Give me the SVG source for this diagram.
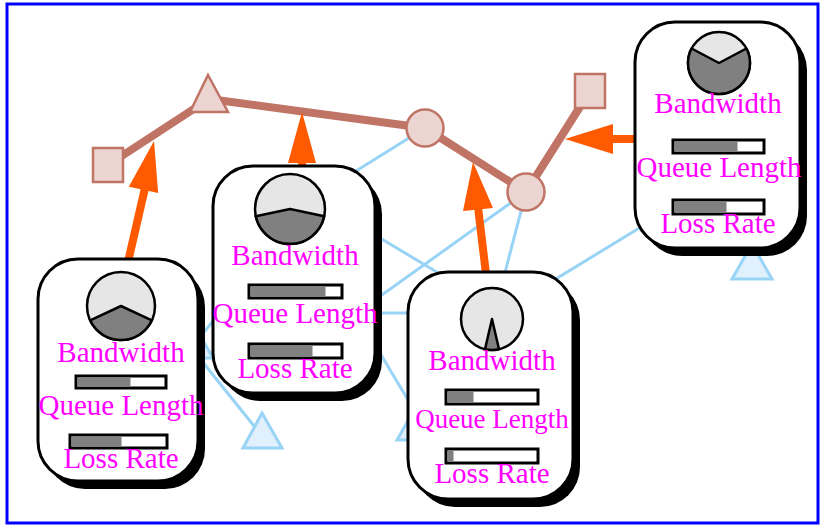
<svg xmlns="http://www.w3.org/2000/svg" width="822" height="527" viewBox="0 0 822 527">
<style>
.frame{fill:#fff;stroke:#0000ff;stroke-width:3}
.bl{stroke:#99d4f7;stroke-width:3;fill:none}
.btri{fill:#e0f1fd;stroke:#99d4f7;stroke-width:3}
.chain{stroke:#c07466;stroke-width:8;fill:none;stroke-linejoin:round}
.bs{fill:#ecd4d0;stroke:#c07466;stroke-width:2.5}
.or{stroke:#ff5a00;stroke-width:8;fill:none}
.oh{fill:#ff5a00}
.shadow{fill:#000}
.box{fill:#fff;stroke:#000;stroke-width:3}
.gl{fill:#e6e6e6;stroke:#000;stroke-width:2.5}
.gd{fill:#808080;stroke:#000;stroke-width:2.5;stroke-linejoin:round}
.bar{fill:#fff;stroke:#000;stroke-width:3}
.fill{fill:#808080}
.t{font-family:"Liberation Serif","Times New Roman",serif;font-size:29px;fill:#ff00ff;text-anchor:middle}
</style>
<rect class="frame" x="7" y="4" width="811" height="519"/>
<g id="connectors">
<line class="bl" x1="425" y1="128" x2="295" y2="209"/>
<line class="bl" x1="526" y1="192" x2="295" y2="357"/>
<line class="bl" x1="526" y1="192" x2="490" y2="330"/>
<line class="bl" x1="330" y1="208" x2="480" y2="298"/>
<line class="bl" x1="718" y1="180" x2="500" y2="313"/>
<line class="bl" x1="350" y1="313" x2="450" y2="313"/>
<line class="bl" x1="340" y1="286" x2="417" y2="415"/>
<line class="bl" x1="193" y1="350" x2="262" y2="436"/>
<line class="bl" x1="193" y1="346" x2="280" y2="237"/>
<polyline class="chain" points="108,165 209,99 425,128 526,192 590,91"/>
</g>
<g id="blue-triangles">
<polygon class="btri" points="193,323 213,358 173,358"/>
<polygon class="btri" points="262,413 282,448 243,448"/>
<polygon class="btri" points="417,405 437,440 397,440"/>
<polygon class="btri" points="752,244 772,279 732,279"/>
</g>
<g id="chain-nodes">
<rect class="bs" x="93" y="148" width="30" height="34"/>
<polygon class="bs" points="208,75 228,112 190,112"/>
<circle class="bs" cx="425" cy="128" r="18.5"/>
<circle class="bs" cx="526" cy="192" r="18.5"/>
<rect class="bs" x="575" y="74" width="30" height="34"/>
</g>
<g id="arrows">
<line class="or" x1="128" y1="262" x2="145" y2="188"/>
<polygon class="oh" points="154,141 158.2,193.1 128.8,186.7"/>
<line class="or" x1="302" y1="160" x2="302" y2="170"/>
<polygon class="oh" points="302,112 316,163 288,163"/>
<line class="or" x1="478" y1="207" x2="486" y2="274"/>
<polygon class="oh" points="473,162 493,208 463,211"/>
<line class="or" x1="611" y1="139" x2="637" y2="139"/>
<polygon class="oh" points="565,139 613,124 613,154"/>
</g>
<g id="node1">
<rect class="shadow" x="45" y="267" width="160" height="222" rx="40"/>
<rect class="box" x="38" y="259" width="160" height="222" rx="40"/>
<circle class="gl" cx="121" cy="306" r="34"/>
<path class="gd" d="M121,306 L151.8,320.4 A34,34 0 0 1 90.2,320.4 Z"/>
<text class="t" x="121" y="362">Bandwidth</text>
<rect class="bar" x="76" y="376" width="90" height="12"/>
<rect class="fill" x="77.5" y="377.5" width="53" height="9"/>
<text class="t" x="121" y="415">Queue Length</text>
<rect class="bar" x="70" y="435" width="97" height="13"/>
<rect class="fill" x="71.5" y="436.5" width="50" height="10"/>
<text class="t" x="121" y="468">Loss Rate</text>
</g>
<g id="node2">
<rect class="shadow" x="220" y="174" width="162" height="227" rx="40"/>
<rect class="box" x="213" y="166" width="162" height="227" rx="40"/>
<circle class="gl" cx="290" cy="209" r="35"/>
<path class="gd" d="M290,209 L324.2,216.3 A35,35 0 0 1 255.8,216.3 Z"/>
<text class="t" x="295" y="265">Bandwidth</text>
<rect class="bar" x="249" y="285" width="93" height="13"/>
<rect class="fill" x="250.5" y="286.5" width="75" height="10"/>
<text class="t" x="295" y="323">Queue Length</text>
<rect class="bar" x="249" y="344" width="93" height="14"/>
<rect class="fill" x="250.5" y="345.5" width="62" height="11"/>
<text class="t" x="295" y="378">Loss Rate</text>
</g>
<g id="node3">
<rect class="shadow" x="415" y="280" width="165" height="227" rx="40"/>
<rect class="box" x="408" y="272" width="165" height="227" rx="40"/>
<circle class="gl" cx="492" cy="319" r="31"/>
<path class="gd" d="M492,319 L499,349.2 A31,31 0 0 1 485,349.2 Z"/>
<text class="t" x="492" y="370">Bandwidth</text>
<rect class="bar" x="446" y="390" width="92" height="14"/>
<rect class="fill" x="447.5" y="391.5" width="26" height="11"/>
<text class="t" x="492" y="428" style="font-size:27px">Queue Length</text>
<rect class="bar" x="446" y="449" width="92" height="14"/>
<rect class="fill" x="447.5" y="450.5" width="6" height="11"/>
<text class="t" x="492" y="483">Loss Rate</text>
</g>
<g id="node4">
<rect class="shadow" x="642" y="30" width="165" height="226" rx="40"/>
<rect class="box" x="635" y="22" width="165" height="226" rx="40"/>
<circle class="gl" cx="719" cy="63" r="31"/>
<path class="gd" d="M719,63 L746.4,48.5 A31,31 0 1 1 691.6,48.5 Z"/>
<text class="t" x="718" y="113">Bandwidth</text>
<rect class="bar" x="673" y="140" width="91" height="13"/>
<rect class="fill" x="674.5" y="141.5" width="63" height="10"/>
<text class="t" x="719" y="177">Queue Length</text>
<rect class="bar" x="673" y="200" width="91" height="14"/>
<rect class="fill" x="674.5" y="201.5" width="52" height="11"/>
<text class="t" x="718" y="233">Loss Rate</text>
</g>
</svg>
